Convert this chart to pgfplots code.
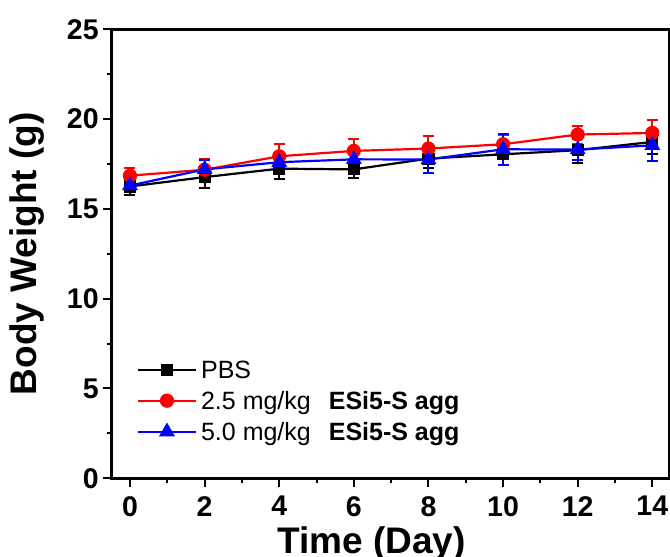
\documentclass[border=0pt]{standalone}
\usepackage{fontspec}
\setmainfont{Liberation Sans}
\usepackage{pgfplots}
\usepackage{pgfplotstable}
\pgfplotsset{compat=1.18}

% day, mean weight (g), error
\pgfplotstableread{
x  y     e
0  16.25 0.45
2  16.77 0.60
4  17.24 0.60
6  17.20 0.50
8  17.80 0.50
10 18.04 0.60
12 18.27 0.70
14 18.73 0.65
}\pbs
\pgfplotstableread{
x  y     e
0  16.85 0.45
2  17.18 0.60
4  17.93 0.70
6  18.23 0.65
8  18.36 0.70
10 18.60 0.50
12 19.14 0.50
14 19.23 0.70
}\lowdose
\pgfplotstableread{
x  y     e
0  16.30 0.35
2  17.20 0.50
4  17.60 0.50
6  17.76 0.50
8  17.75 0.75
10 18.32 0.85
12 18.30 0.60
14 18.54 0.90
}\highdose

\begin{document}
\begin{tikzpicture}
\begin{axis}[
  scale only axis,
  width=557.8pt, height=449pt,
  xmin=-0.49, xmax=14.46, ymin=0, ymax=25,
  xtick={0,2,...,14}, ytick={0,5,...,25},
  minor x tick num=1, minor y tick num=1,
  tick align=outside, tick pos=left,
  major tick length=8.5pt, minor tick length=5pt,
  every tick/.style={black,line width=2pt},
  axis line style={line width=2.5pt},
  /pgf/number format/assume math mode=true,
  tick label style={font=\fontsize{28.5}{28.5}\selectfont\bfseries},
  xticklabel style={yshift=-6pt},
  yticklabel style={xshift=-1pt},
  xlabel={Time (Day)}, ylabel={Body Weight (g)},
  label style={font=\fontsize{37}{37}\selectfont\bfseries},
  xlabel style={at={(axis description cs:0.466,-0.1664)},anchor=base},
  ylabel style={at={(axis description cs:-0.151,0.5)},anchor=center},
  legend cell align=left,
  legend image code/.code={
    \draw[mark repeat=2,mark phase=2,#1]
      plot coordinates {(0pt,2pt) (29pt,2pt) (58pt,2pt)};},
  legend style={draw=none,fill=none,inner sep=0pt,
    at={(axis description cs:0.0448,0.2657)},anchor=north west,
    row sep=6pt,column sep=4pt,
    nodes={inner sep=0pt,text height=19pt,text depth=6pt,
      font=\fontsize{25}{25}\selectfont}},
  error bars/y dir=both, error bars/y explicit,
  error bars/error bar style={line width=2pt},
  error bars/error mark options={rotate=90,mark size=5.5pt,line width=2pt},
]
\addplot[black,line width=2.2pt,mark=square*,mark size=5pt,
  mark options={solid}]
  table[x=x,y=y,y error=e] {\pbs};
\addlegendentry{PBS}
\addplot[red,line width=2.2pt,mark=*,mark size=6pt]
  table[x=x,y=y,y error=e] {\lowdose};
\addlegendentry{2.5 mg/kg\hspace{18pt}\textbf{ESi5-S agg}}
\addplot[blue,line width=2.2pt,mark=triangle*,mark size=7pt]
  table[x=x,y=y,y error=e] {\highdose};
\addlegendentry{5.0 mg/kg\hspace{18pt}\textbf{ESi5-S agg}}
\end{axis}
\pgfresetboundingbox
\path[use as bounding box]
  ([shift={(-111.7pt,-78.7pt)}]current axis.south west) rectangle
  ([shift={(558.3pt,478.3pt)}]current axis.south west);
\end{tikzpicture}
\end{document}
